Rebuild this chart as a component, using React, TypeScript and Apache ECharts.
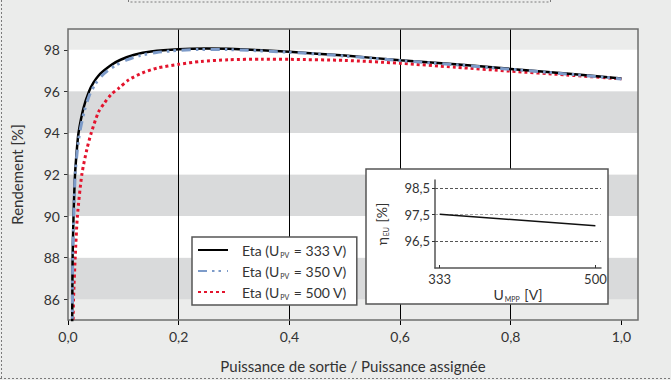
import React, { useEffect, useRef } from "react";
import * as echarts from "echarts";

// ---- Data ----
const xTickValues = [0, 0.2, 0.4, 0.6, 0.8, 1.0];
const yTickValues = [86, 88, 90, 92, 94, 96, 98];

const seriesNames = ["Eta (UPV = 333 V)", "Eta (UPV = 350 V)", "Eta (UPV = 500 V)"];

const ratio333 = [0.007, 0.0076, 0.0078, 0.0083, 0.010, 0.0127, 0.016, 0.019, 0.028, 0.038, 0.046, 0.055, 0.065, 0.078, 0.095, 0.12, 0.15, 0.2, 0.25, 0.3, 0.4, 0.5, 0.6, 0.7, 0.8, 0.9, 1.0];
const eta333 = [83, 85, 86, 88, 90, 92, 93.2, 94, 95.2, 96, 96.42, 96.75, 97.0, 97.27, 97.52, 97.76, 97.92, 98.03, 98.06, 98.04, 97.9, 97.72, 97.5, 97.3, 97.08, 96.86, 96.62];

const ratio350 = [0.0072, 0.0078, 0.008, 0.0086, 0.0105, 0.013, 0.017, 0.021, 0.030, 0.040, 0.050, 0.060, 0.072, 0.086, 0.105, 0.13, 0.16, 0.2, 0.25, 0.3, 0.4, 0.5, 0.6, 0.7, 0.8, 0.9, 1.0];
const eta350 = [83, 85, 86, 88, 90, 92, 93.2, 94, 95.1, 95.9, 96.38, 96.72, 97.0, 97.25, 97.5, 97.72, 97.87, 97.97, 98.02, 98.0, 97.88, 97.7, 97.48, 97.28, 97.06, 96.84, 96.6];

const ratio500 = [0.0085, 0.0093, 0.010, 0.013, 0.017, 0.025, 0.034, 0.042, 0.055, 0.066, 0.078, 0.092, 0.110, 0.134, 0.161, 0.2, 0.24, 0.29, 0.35, 0.4, 0.5, 0.6, 0.7, 0.8, 0.9, 1.0];
const eta500 = [83, 85, 86, 88, 90, 92, 93.2, 94, 95, 95.45, 95.85, 96.16, 96.56, 96.88, 97.12, 97.3, 97.44, 97.52, 97.55, 97.54, 97.49, 97.35, 97.16, 96.97, 96.79, 96.6];

const insetVoltage = [333, 500];
const insetEtaEU = [97.52, 97.08];
const insetYTicks = [96.5, 97.5, 98.5];

const zip = (xs: number[], ys: number[]) => xs.map((x, i) => [x, ys[i]]);
const comma = (v: number, d: number) => v.toFixed(d).replace(".", ",");

const FONT = "Lato";
const TXT = "#333333";

export default function App() {
  const ref = useRef<HTMLDivElement>(null);

  useEffect(() => {
    if (!ref.current) return;
    const chart = echarts.init(ref.current, undefined, { renderer: "svg" });

    const subRich = {
      s: { fontSize: 7, fontFamily: FONT, color: TXT, verticalAlign: "bottom", lineHeight: 16, padding: [0, 1, 0, 1] },
    };

    const option: any = {
      animation: false,
      backgroundColor: "#ebeceb",
      textStyle: { fontFamily: FONT },
      grid: [
        {
          left: 68, top: 29, width: 570, height: 291,
          show: true, backgroundColor: "transparent", borderColor: "#6e6e6e", borderWidth: 1.5, z: 3,
        },
        { left: 435, top: 180, width: 166, height: 88, z: 20 },
      ],
      xAxis: [
        {
          type: "value", gridIndex: 0, min: 0, max: 1.03, z: 1,
          name: "Puissance de sortie / Puissance assignée",
          nameLocation: "middle", nameGap: 38,
          nameTextStyle: { fontSize: 15, color: TXT, fontFamily: FONT },
          axisLine: { show: false },
          axisTick: { show: true, length: 5, lineStyle: { color: "#000", width: 1 }, customValues: xTickValues },
          axisLabel: {
            fontSize: 14, color: TXT, fontFamily: FONT, margin: 9,
            customValues: xTickValues,
            formatter: (v: number) => comma(v, 1),
          },
          splitLine: { show: true, showMinLine: false, showMaxLine: false, lineStyle: { color: "#000", width: 1 } },
        },
        {
          type: "value", gridIndex: 1, min: 328, max: 506, z: 20,
          name: "U{s|MPP} [V]",
          nameLocation: "middle", nameGap: 18,
          nameTextStyle: { fontSize: 14, color: TXT, fontFamily: FONT, lineHeight: 16, rich: subRich },
          axisLine: { show: true, lineStyle: { color: "#555", width: 1.5 } },
          axisTick: { show: true, inside: true, length: 3, lineStyle: { color: "#333" }, customValues: insetVoltage },
          axisLabel: { fontSize: 13, color: TXT, fontFamily: FONT, margin: 4, customValues: insetVoltage },
          splitLine: { show: false },
        },
      ],
      yAxis: [
        {
          type: "value", gridIndex: 0, min: 85, max: 99, splitNumber: 7, minInterval: 2, maxInterval: 2, z: 0,
          name: "Rendement [%]",
          nameLocation: "middle", nameGap: 44,
          nameTextStyle: { fontSize: 15, color: TXT, fontFamily: FONT },
          axisLine: { show: false },
          axisTick: { show: true, length: 4, lineStyle: { color: "#333" }, customValues: yTickValues },
          axisLabel: { fontSize: 14, color: TXT, fontFamily: FONT, margin: 8, customValues: yTickValues },
          splitLine: { show: false },
          splitArea: { show: true, areaStyle: { color: ["#d9dadb", "#ffffff"] } },
        },
        {
          type: "value", gridIndex: 1, min: 95.5, max: 98.8, z: 20,
          name: "η{s|EU} [%]",
          nameLocation: "middle", nameGap: 46,
          nameTextStyle: { fontSize: 14, color: TXT, fontFamily: FONT, lineHeight: 16, rich: subRich },
          axisLine: { show: true, lineStyle: { color: "#555", width: 1.5 } },
          axisTick: { show: true, length: 3, lineStyle: { color: "#333" }, customValues: insetYTicks },
          axisLabel: {
            fontSize: 13, color: TXT, fontFamily: FONT, margin: 5, customValues: insetYTicks,
            formatter: (v: number) => comma(v, 1),
          },
          splitLine: { show: false },
        },
      ],
      legend: {
        show: true,
        orient: "vertical",
        left: 192, top: 237,
        padding: [5, 10, 5, 5],
        itemGap: 5,
        itemWidth: 30, itemHeight: 14,
        backgroundColor: "#ffffff",
        borderColor: "#555", borderWidth: 1.5, borderRadius: 0,
        selectedMode: false,
        data: seriesNames,
        itemStyle: { opacity: 0 },
        formatter: (name: string) => name.replace("UPV", "U{s|PV}"),
        textStyle: {
          fontSize: 14, color: TXT, fontFamily: FONT, lineHeight: 16, padding: [0, 0, 0, 9],
          rich: subRich,
        },
        z: 6,
      },
      graphic: [
        {
          type: "rect", z: 10,
          shape: { x: 366, y: 169, width: 242, height: 135 },
          style: { fill: "#ffffff", stroke: "#555", lineWidth: 1.5 },
        },
        {
          type: "line", z: 10,
          shape: { x1: 1.5, y1: 0, x2: 1.5, y2: 380 },
          style: { stroke: "#7a7a7a", lineWidth: 1, lineDash: [2, 2] },
        },
        {
          type: "line", z: 10,
          shape: { x1: 0, y1: 378.5, x2: 671, y2: 378.5 },
          style: { stroke: "#7a7a7a", lineWidth: 1, lineDash: [2, 2] },
        },
        {
          type: "rect", z: 10,
          shape: { x: 128.5, y: -10, width: 422, height: 12 },
          style: { fill: "none", stroke: "#7a7a7a", lineWidth: 1, lineDash: [2, 2] },
        },
      ],
      series: [
        {
          name: seriesNames[0], type: "line", xAxisIndex: 0, yAxisIndex: 0,
          data: zip(ratio333, eta333), showSymbol: false, symbol: "none", smooth: 0.25, z: 4,
          lineStyle: { color: "#000000", width: 2.5 },
          itemStyle: { color: "#000000" },
        },
        {
          name: seriesNames[1], type: "line", xAxisIndex: 0, yAxisIndex: 0,
          data: zip(ratio350, eta350), showSymbol: false, symbol: "none", smooth: 0.25, z: 5,
          lineStyle: { color: "#7d9bc9", width: 3, type: [9, 5, 2.5, 4, 2.5, 6] },
          itemStyle: { color: "#7d9bc9" },
        },
        {
          name: seriesNames[2], type: "line", xAxisIndex: 0, yAxisIndex: 0,
          data: zip(ratio500, eta500), showSymbol: false, symbol: "none", smooth: 0.25, z: 3,
          lineStyle: { color: "#e3142d", width: 3, type: [3, 3] },
          itemStyle: { color: "#e3142d" },
        },
        {
          name: "EU", type: "line", xAxisIndex: 1, yAxisIndex: 1,
          data: zip(insetVoltage, insetEtaEU), showSymbol: false, symbol: "none", z: 21,
          lineStyle: { color: "#111", width: 1.5 },
          markLine: {
            silent: true, symbol: "none", z: 20,
            label: { show: false },
            lineStyle: { color: "#555", width: 1, type: [3, 2] },
            data: insetYTicks.map((v) => ({
              yAxis: v,
              lineStyle: { color: v === 97.5 ? "#a8a8a8" : "#555", width: 1, type: [3, 2] },
            })),
          },
        },
      ],
    };

    chart.setOption(option);
    return () => chart.dispose();
  }, []);

  return (
    <div
      ref={ref}
      style={{ position: "fixed", left: 0, top: 0, width: 671, height: 380 }}
    />
  );
}
